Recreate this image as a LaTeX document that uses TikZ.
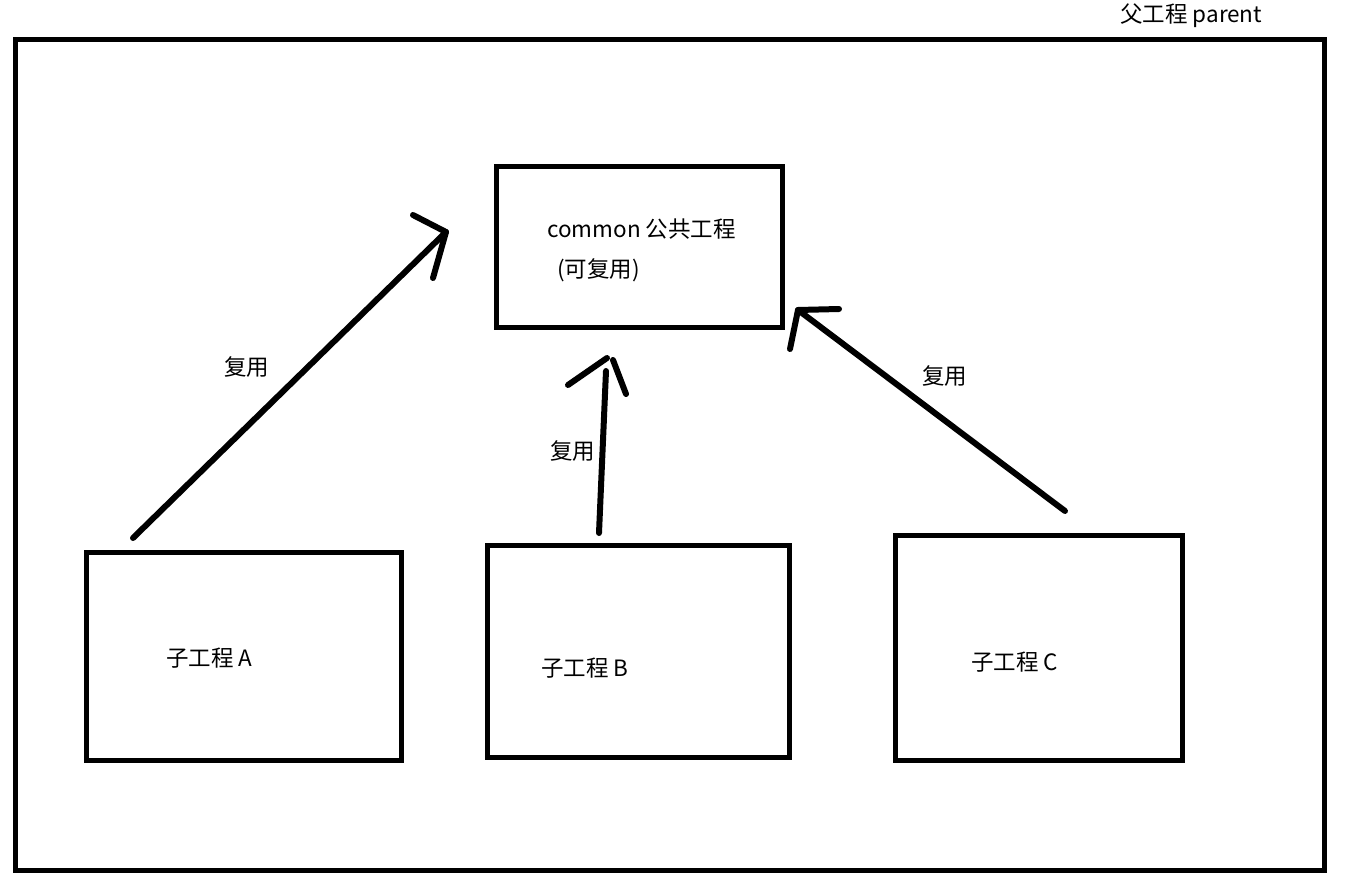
\documentclass[tikz,border=0pt]{standalone}
\usepackage{fontspec}
\setmainfont{Noto Sans CJK SC}
\begin{document}
\begin{tikzpicture}[x=1pt,y=-1pt,
  frame/.style={draw=black,line width=5pt},
  lbl/.style={font=\fontsize{22.5}{26}\selectfont,inner sep=0pt,anchor=west},
  shaft/.style={line width=6pt,line cap=round,line join=round}]
\useasboundingbox (0,0) rectangle (1345,881);
\fill[white] (0,0) rectangle (1345,881);
% parent frame
\draw[frame] (15,39) rectangle (1324,870);
\node[lbl] (parentlbl) at (1120,16) {父工程 parent};
% boxes
\draw[frame] (496,166) rectangle (782,327);
\node[lbl] (commonlbl) at (547,229) {common 公共工程};
\node[lbl] (reuse) at (557,270) {(可复用)};
\draw[frame] (86,552) rectangle (401,760);
\node[lbl] (alabel) at (166,658) {子工程 A};
\draw[frame] (487,545) rectangle (789,757);
\node[lbl] (blabel) at (541,668) {子工程 B};
\draw[frame] (895,535) rectangle (1182,760);
\node[lbl] (clabel) at (971,662) {子工程 C};
% arrow A
\coordinate (a0) at (133,538);
\coordinate (a1) at (446,232);
\coordinate (ah1) at (413,215);
\coordinate (ah2) at (433,278);
\draw[shaft] (a0) -- (a1);
\draw[shaft] (ah1) -- (a1) -- (ah2);
\node[lbl] (la) at (224,367) {复用};
% arrow B
\coordinate (b0) at (599,533);
\coordinate (b1) at (606,371);
\coordinate (bh) at (607,358);
\coordinate (bh1) at (568,385);
\coordinate (bh2) at (613,360);
\coordinate (bh3) at (626,394);
\draw[shaft] (b0) -- (b1);
\draw[shaft] (bh1) -- (bh);
\draw[shaft] (bh2) -- (bh3);
\node[lbl] (lb) at (550,451) {复用};
% arrow C
\coordinate (c0) at (1065,511);
\coordinate (c1) at (798,310);
\coordinate (ch1) at (839,309);
\coordinate (ch2) at (790,349);
\draw[shaft] (c0) -- (c1);
\draw[shaft] (ch1) -- (c1) -- (ch2);
\node[lbl] (lc) at (922,376) {复用};
\end{tikzpicture}
\end{document}
